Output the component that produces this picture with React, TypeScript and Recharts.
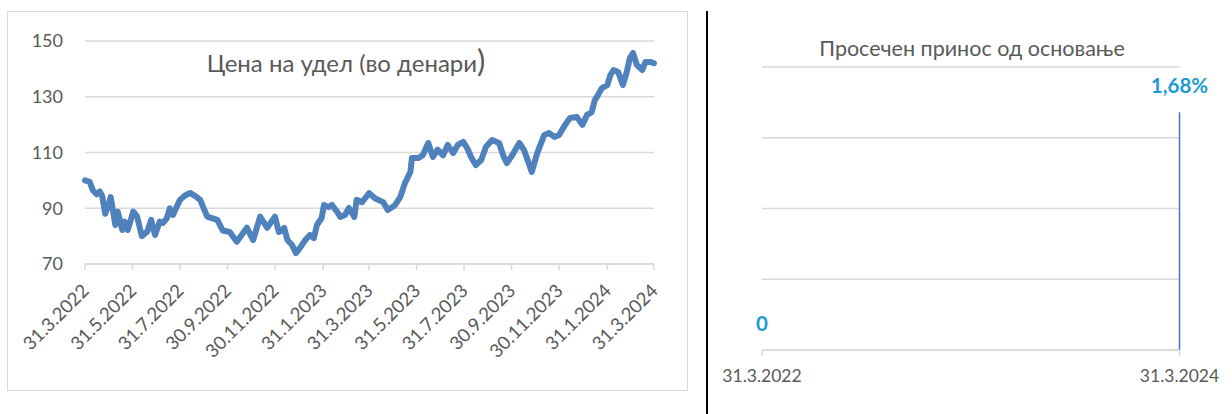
import React from 'react';
import {
  LineChart, Line, XAxis, YAxis, CartesianGrid,
  ComposedChart, Bar, LabelList,
} from 'recharts';

// ---- Left chart: price per unit (denars) ----
const priceDay = [
  0, 6, 10, 15, 19, 22, 26, 30, 33, 39, 42, 48, 51, 55, 62, 67, 73, 80, 85, 90,
  96, 100, 105, 109, 113, 118, 122, 128, 135, 141, 148, 157, 170, 177, 186, 195, 208, 216, 225, 234,
  244, 249, 256, 260, 266, 271, 276, 283, 289, 294, 298, 304, 307, 313, 317, 324, 328, 334, 339, 346,
  349, 356, 365, 373, 383, 389, 398, 405, 411, 418, 420, 428, 434, 441, 447, 453, 460, 466, 473, 479,
  486, 491, 496, 502, 509, 515, 523, 532, 538, 542, 549, 558, 564, 570, 574, 581, 590, 596, 603, 609,
  617, 623, 632, 639, 645, 651, 655, 659, 664, 671, 675, 679, 685, 691, 696, 700, 704, 709, 716, 720,
  726, 731,
];
const priceValue = [
  100, 99.5, 96.5, 95, 96, 94.5, 88, 91, 94, 84, 88.8, 82.2, 85.2, 82.2, 88.8, 87, 80, 81.6, 85.8, 80.4,
  85.2, 84.7, 86.4, 90, 87.6, 90.6, 93, 94.5, 95.5, 94.5, 93, 87, 85.8, 82, 81.5, 78, 83, 78.6, 87, 83,
  87, 81.5, 82.9, 78.6, 76.8, 73.9, 75.7, 78.6, 80.4, 79.3, 84, 86.5, 91.2, 90.4, 91.2, 88.7, 86.9, 87.6, 90.1, 86.9,
  93, 92.2, 95.4, 93.5, 92.2, 89.4, 91, 94, 99, 103, 108, 108, 109, 113.4, 108.4, 111, 109, 112.7, 109.8, 112.7,
  113.8, 111.6, 108.4, 105.5, 107.3, 112, 114.5, 113.4, 108.4, 106.2, 109.1, 113.4, 110.9, 106.2, 103, 109.8, 116.3, 117, 115.6, 116.3,
  120, 122.4, 122.7, 119.9, 123.5, 124.5, 128.8, 130.6, 133.1, 134.2, 137.8, 139.6, 138.9, 134.2, 138.9, 143.9, 145.7, 141.4, 139.6, 142.5,
  142.5, 142,
];
const leftTickLabels = [
  '31.3.2022', '31.5.2022', '31.7.2022', '30.9.2022', '30.11.2022', '31.1.2023', '31.3.2023',
  '31.5.2023', '31.7.2023', '30.9.2023', '30.11.2023', '31.1.2024', '31.3.2024',
];
const leftYTicks = [70, 90, 110, 130, 150];
const leftTitle = 'Цена на удел (во денари';

// ---- Right chart: average return since inception ----
const rightDates = ['31.3.2022', '31.3.2024'];
const rightValues = [0, 1.68];
const rightLabels = ['0', '1,68%'];
const rightYTicks = [0, 0.5, 1, 1.5, 2];
const rightTitle = 'Просечен принос од основање';

const FONT = 'Lato, "Noto Sans", sans-serif';
const TEXT = '#595959';
const GRID = '#D9D9D9';

const parseDay = (s: string) => {
  const [d, m, y] = s.split('.').map(Number);
  return Math.round((Date.UTC(y, m - 1, d) - Date.UTC(2022, 2, 31)) / 86400000);
};

const leftTickDays = leftTickLabels.map(parseDay);
const labelByDay: Record<number, string> = {};
leftTickLabels.forEach((l, i) => { labelByDay[leftTickDays[i]] = l; });

const priceData = priceDay.map((d, i) => ({ day: d, price: priceValue[i] }));

const rightDays = rightDates.map(parseDay);
const rightLabelByDay: Record<number, string> = {};
rightDates.forEach((l, i) => { rightLabelByDay[rightDays[i]] = l; });
const rightData = rightDays.map((d, i) => ({ day: d, value: rightValues[i], label: rightLabels[i] }));

const RotTick = (props: any) => {
  const { x, y, payload } = props;
  const ax = x + 5;
  const ay = y + 20;
  return (
    <text x={ax} y={ay} transform={`rotate(-45, ${ax}, ${ay})`} textAnchor="end"
      fill={TEXT} fontSize={18.5} fontFamily={FONT}>
      {labelByDay[payload.value]}
    </text>
  );
};

const ValueLabel = (props: any) => {
  const { x, y, value } = props;
  return (
    <text x={x} y={y - 19} textAnchor="middle" fill="#1E9AD6"
      fontSize={20.5} fontWeight={700} fontFamily={FONT}>
      {value}
    </text>
  );
};

export default function App() {
  return (
    <div style={{ position: 'absolute', left: 0, top: 0, width: 1232, height: 414, background: '#fff', overflow: 'hidden' }}>
      <div style={{ position: 'absolute', left: 7, top: 11, width: 679, height: 378, border: `1.5px solid ${GRID}` }} />
      <div style={{ position: 'absolute', left: 0, top: 0 }}>
        <LineChart width={700} height={414} data={priceData}
          margin={{ top: 41, right: 46, left: 5, bottom: 0 }}>
          <CartesianGrid vertical={false} stroke={GRID} strokeWidth={1.5} />
          <XAxis type="number" dataKey="day" domain={[0, 731]} ticks={leftTickDays} interval={0}
            height={150} tick={<RotTick />} axisLine={{ stroke: GRID, strokeWidth: 1.5 }}
            tickLine={{ stroke: GRID, strokeWidth: 1.5 }} tickSize={6} tickMargin={2} />
          <YAxis type="number" domain={[70, 150]} ticks={leftYTicks} width={80} axisLine={false}
            tickLine={false} tickSize={0} tickMargin={22}
            tick={{ fill: TEXT, fontSize: 18, fontFamily: FONT }} />
          <Line type="linear" dataKey="price" stroke="#4F81BD" strokeWidth={6} dot={false}
            strokeLinejoin="round" strokeLinecap="round" isAnimationActive={false} />
        </LineChart>
      </div>
      <div style={{ position: 'absolute', left: 0, top: 44, width: 692, textAlign: 'center', color: TEXT, fontFamily: FONT, fontSize: 24, lineHeight: '32px' }}>
        {leftTitle}<span style={{ fontSize: 31 }}>)</span>
      </div>

      <div style={{ position: 'absolute', left: 706, top: 11, width: 2, height: 403, background: '#000' }} />

      <div style={{ position: 'absolute', left: 700, top: 32, width: 544, textAlign: 'center', color: TEXT, fontFamily: FONT, fontSize: 21.5, lineHeight: '32px' }}>
        {rightTitle}
      </div>
      <div style={{ position: 'absolute', left: 700, top: 0 }}>
        <ComposedChart width={532} height={414} data={rightData}
          margin={{ top: 67, right: 52.5, left: 62, bottom: 24 }}>
          <CartesianGrid vertical={false} stroke={GRID} strokeWidth={1.5} />
          <XAxis type="number" dataKey="day" domain={[0, 731]} ticks={rightDays} interval={0}
            height={40} axisLine={{ stroke: GRID, strokeWidth: 1.5 }}
            tickLine={{ stroke: GRID, strokeWidth: 1.5 }} tickSize={6} tickMargin={14}
            tickFormatter={(v: number) => rightLabelByDay[v]}
            tick={{ fill: TEXT, fontSize: 17.5, fontFamily: FONT }} />
          <YAxis hide type="number" domain={[0, 2]} ticks={rightYTicks} />
          <Bar dataKey="value" fill="#4472C4" barSize={1.5} isAnimationActive={false} />
          <Line type="linear" dataKey="value" stroke="none" dot={false} activeDot={false}
            isAnimationActive={false}>
            <LabelList dataKey="label" content={<ValueLabel />} />
          </Line>
        </ComposedChart>
      </div>
    </div>
  );
}
